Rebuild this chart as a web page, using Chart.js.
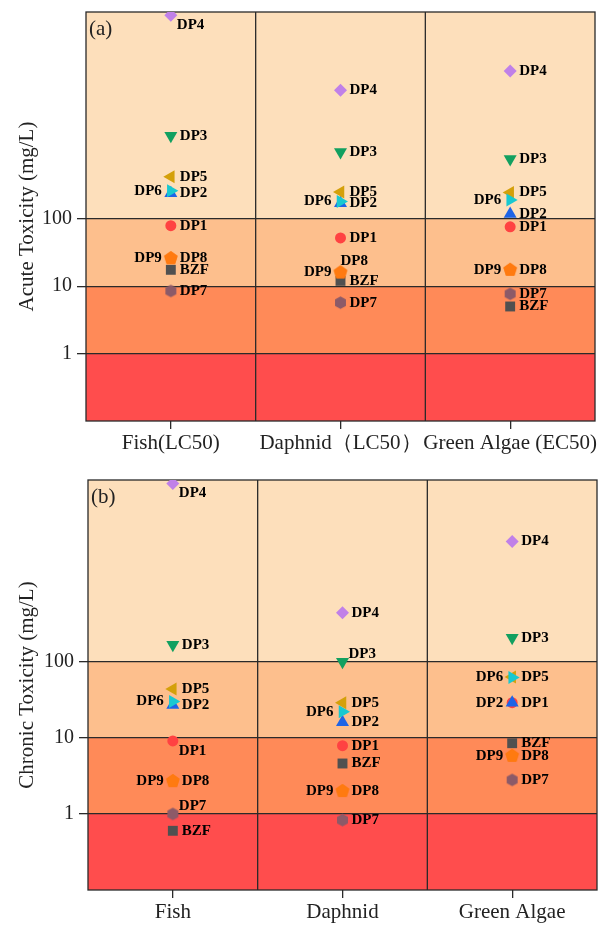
<!DOCTYPE html>
<html>
<head>
<meta charset="utf-8">
<script src="https://cdn.jsdelivr.net/npm/chart.js@4.4.0/dist/chart.umd.min.js"></script>
<style>
body { margin: 0; background: #fff; }
canvas { position: absolute; left: 0; }
#acute { top: 0; }
#chronic { top: 460px; }
</style>
</head>
<body>
<canvas id="acute" width="598" height="460"></canvas>
<canvas id="chronic" width="598" height="466"></canvas>
<script>
// ---- data ----
var compounds = ['BZF', 'DP1', 'DP2', 'DP3', 'DP4', 'DP5', 'DP6', 'DP7', 'DP8', 'DP9'];
var acuteLabels = ['Fish(LC50)', 'Daphnid（LC50）', 'Green Algae (EC50)'];
var chronicLabels = ['Fish', 'Daphnid', 'Green Algae'];
var yTicks = [1, 10, 100];
var bandEdges = [1, 10, 100];

// mg/L, same order as compounds
var acuteFish     = [17.5, 79, 240, 1700, 105000, 420, 260, 8.5, 26, 26];
var acuteDaphnid  = [12, 52, 170, 980, 8100, 250, 180, 5.7, 16, 16];
var acuteAlgae    = [5.0, 76, 118, 770, 15600, 245, 190, 7.7, 17.5, 17.5];
var chronicFish    = [0.6, 9.1, 27, 167, 22000, 44, 30, 1.0, 2.7, 2.7];
var chronicDaphnid = [4.6, 7.9, 16, 100, 440, 29, 22, 0.83, 2.0, 2.0];
var chronicAlgae   = [8.5, 29, 29, 207, 3800, 63, 62, 2.8, 5.8, 5.8];

// ---- styles ----
var FONT = "'Liberation Serif', 'Times New Roman', serif";
var bandColors = ['#FF4D4D', '#FF8A58', '#FDBF8D', '#FDDFBB'];

function polyImage(sides, r, color) {
    var c = document.createElement('canvas');
    var s = Math.ceil(r * 2 + 2);
    c.width = s; c.height = s;
    var g = c.getContext('2d');
    g.fillStyle = color;
    g.beginPath();
    for (var i = 0; i < sides; i++) {
        var a = -Math.PI / 2 + i * 2 * Math.PI / sides;
        var px = s / 2 + r * Math.cos(a), py = s / 2 + r * Math.sin(a);
        if (i) g.lineTo(px, py); else g.moveTo(px, py);
    }
    g.closePath();
    g.fill();
    return c;
}

var markers = {
    BZF: { color: '#505050', style: 'rect', rot: 0, r: 7 },
    DP1: { color: '#FF4242', style: 'circle', rot: 0, r: 5.5 },
    DP2: { color: '#1E64E6', style: 'triangle', rot: 0, r: 7.5 },
    DP3: { color: '#12A060', style: 'triangle', rot: 180, r: 7.5 },
    DP4: { color: '#C080E8', style: 'rectRot', rot: 0, r: 6.5 },
    DP5: { color: '#D4A00A', style: 'triangle', rot: 270, r: 7.5 },
    DP6: { color: '#18C8D0', style: 'triangle', rot: 90, r: 7.5 },
    DP7: { color: '#8C5A68', style: polyImage(6, 6.3, '#8C5A68'), rot: 0, r: 6 },
    DP8: { color: '#FF7A10', style: polyImage(5, 7, '#FF7A10'), rot: 0, r: 6 },
    DP9: { color: '#FF7A10', style: polyImage(5, 7, '#FF7A10'), rot: 0, r: 6 }
};

// label placement per compound and organism (default right)
var acutePlace = {
    DP4: ['br', 'r', 'r'],
    DP6: ['l', 'l', 'l'],
    DP8: ['r', 'a', 'r'],
    DP9: ['l', 'l', 'l']
};
var chronicPlace = {
    DP1: ['br', 'r', 'r'],
    DP2: ['r', 'r', 'l'],
    DP3: ['r', 'ar', 'r'],
    DP4: ['br', 'r', 'r'],
    DP6: ['l', 'l', 'l'],
    DP7: ['ar', 'r', 'r'],
    DP9: ['l', 'l', 'l']
};

function buildDatasets(fish, daphnid, algae) {
    return compounds.map(function (name, i) {
        var m = markers[name];
        return {
            label: name,
            data: [{ x: 1, y: fish[i] }, { x: 2, y: daphnid[i] }, { x: 3, y: algae[i] }],
            pointStyle: m.style,
            pointRotation: m.rot,
            pointRadius: m.r,
            pointHoverRadius: m.r,
            backgroundColor: m.color,
            borderWidth: 0,
            clip: 0,
            order: -i
        };
    });
}

var panelPlugin = {
    id: 'panel',
    beforeDraw: function (chart) {
        var a = chart.chartArea, y = chart.scales.y, ctx = chart.ctx;
        var edges = [y.min].concat(bandEdges).concat([y.max]);
        ctx.save();
        for (var i = 0; i < edges.length - 1; i++) {
            var y0 = y.getPixelForValue(edges[i]);
            var y1 = y.getPixelForValue(edges[i + 1]);
            ctx.fillStyle = bandColors[i];
            ctx.fillRect(a.left, y1, a.right - a.left, y0 - y1);
        }
        ctx.restore();
    },
    beforeDatasetsDraw: function (chart) {
        var a = chart.chartArea, x = chart.scales.x, ctx = chart.ctx;
        ctx.save();
        ctx.strokeStyle = '#2a2a2a';
        ctx.lineWidth = 1.3;
        [1.5, 2.5].forEach(function (v) {
            var px = x.getPixelForValue(v);
            ctx.beginPath();
            ctx.moveTo(px, a.top);
            ctx.lineTo(px, a.bottom);
            ctx.stroke();
        });
        ctx.strokeRect(a.left, a.top, a.right - a.left, a.bottom - a.top);
        ctx.restore();
    },
    afterDatasetsDraw: function (chart, args, opts) {
        var a = chart.chartArea, ctx = chart.ctx;
        ctx.save();
        ctx.fillStyle = '#222';
        ctx.font = '21px ' + FONT;
        ctx.textAlign = 'left';
        ctx.textBaseline = 'middle';
        ctx.fillText(opts.tag, a.left + 3, a.top + 17);

        ctx.fillStyle = '#000';
        ctx.font = 'bold 15px ' + FONT;
        chart.data.datasets.forEach(function (ds, di) {
            var meta = chart.getDatasetMeta(di);
            meta.data.forEach(function (pt, j) {
                var place = (opts.place[ds.label] || ['r', 'r', 'r'])[j];
                var tx = pt.x, ty = pt.y, align = 'left';
                if (place === 'r') { tx += 9; }
                else if (place === 'l') { tx -= 9; align = 'right'; }
                else if (place === 'br') { tx += 6; ty += 10; }
                else if (place === 'ar') { tx += 6; ty -= 8; }
                else if (place === 'a') { ty -= 11; }
                ctx.textAlign = align;
                ctx.fillText(ds.label, tx, ty);
            });
        });
        ctx.restore();
    }
};

function makeChart(id, cats, datasets, yTitle, tag, place, box) {
    return new Chart(document.getElementById(id), {
        type: 'scatter',
        data: { datasets: datasets },
        plugins: [panelPlugin],
        options: {
            responsive: false,
            animation: false,
            events: [],
            layout: { autoPadding: false, padding: { top: box.top, right: box.right, left: 0, bottom: 0 } },
            plugins: {
                legend: { display: false },
                tooltip: { enabled: false },
                panel: { tag: tag, place: place }
            },
            scales: {
                x: {
                    type: 'linear',
                    min: 0.5,
                    max: 3.5,
                    afterBuildTicks: function (s) { s.ticks = [1, 2, 3].map(function (v) { return { value: v }; }); },
                    afterFit: function (s) { s.height = box.xh; s.paddingLeft = 0; s.paddingRight = 0; },
                    grid: { drawOnChartArea: false, color: '#2a2a2a', tickLength: 8, lineWidth: 1.3 },
                    border: { display: false },
                    ticks: {
                        autoSkip: false,
                        maxRotation: 0,
                        padding: 2,
                        color: '#222',
                        font: { family: FONT, size: 21 },
                        callback: function (v) { return cats[v - 1]; }
                    }
                },
                y: {
                    type: 'logarithmic',
                    min: 0.1,
                    max: box.ymax,
                    afterBuildTicks: function (s) { s.ticks = yTicks.map(function (v) { return { value: v }; }); },
                    afterFit: function (s) { s.width = box.yw; s.paddingTop = 0; s.paddingBottom = 0; },
                    grid: { color: '#2a2a2a', tickLength: 9, lineWidth: 1.3 },
                    border: { display: false },
                    ticks: {
                        padding: 5,
                        color: '#222',
                        font: { family: FONT, size: 20 },
                        callback: function (v) { return String(v); }
                    },
                    title: {
                        display: true,
                        text: yTitle,
                        color: '#222',
                        font: { family: FONT, size: 21 },
                        padding: { top: 15, bottom: 0 }
                    }
                }
            }
        }
    });
}

makeChart('acute', acuteLabels, buildDatasets(acuteFish, acuteDaphnid, acuteAlgae),
    'Acute Toxicity (mg/L)', '(a)', acutePlace,
    { top: 12, right: 3, yw: 86, xh: 39, ymax: 117000 });

makeChart('chronic', chronicLabels, buildDatasets(chronicFish, chronicDaphnid, chronicAlgae),
    'Chronic Toxicity (mg/L)', '(b)', chronicPlace,
    { top: 20, right: 1, yw: 88, xh: 36, ymax: 24500 });
</script>
</body>
</html>
